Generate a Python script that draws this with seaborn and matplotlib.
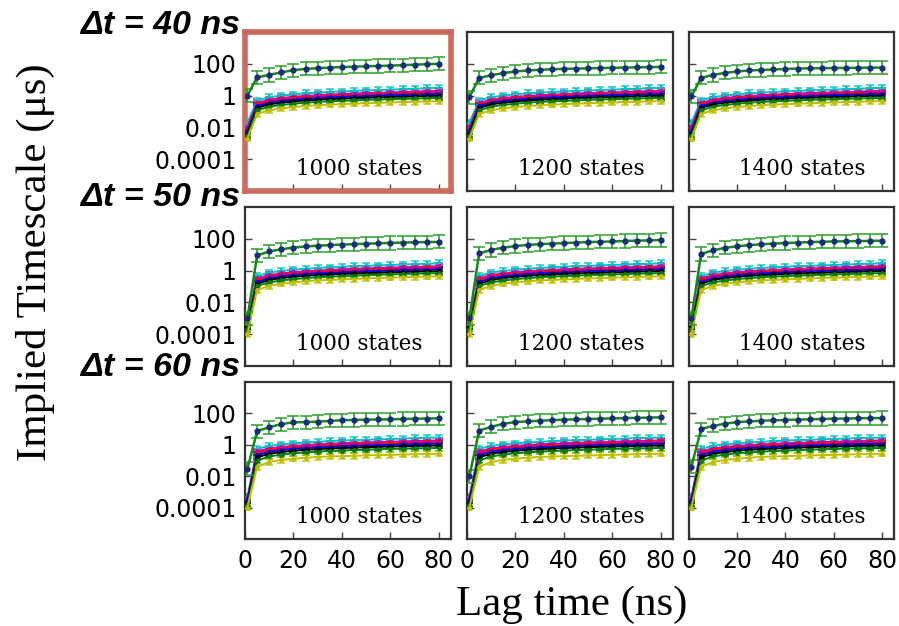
import numpy as np
import pandas as pd
import matplotlib
matplotlib.use("Agg")
import matplotlib.pyplot as plt
import seaborn as sns

# ---------------- data ----------------
LAGS = [1, 5, 10, 15, 20, 25, 30, 35, 40, 45, 50, 55, 60, 65, 70, 75, 80]
ROW_LABELS = ["Δt = 40 ns", "Δt = 50 ns", "Δt = 60 ns"]
COL_LABELS = ["1000 states", "1200 states", "1400 states"]
Y_TICKS = [1e-4, 1e-2, 1, 100]
Y_TICK_LABELS = ["0.0001", "0.01", "1", "100"]
X_TICKS = [0, 20, 40, 60, 80]

# slowest implied timescale (green curve), one per panel [row][col]
SLOW_R1C1 = [1.0, 14, 20, 29, 40, 48, 53, 58, 62, 66, 70, 73, 77, 82, 88, 94, 100]
SLOW_R1C2 = [0.8, 13, 19, 26, 33, 38, 42, 45, 48, 50, 52, 54, 56, 58, 60, 62, 64]
SLOW_R1C3 = [0.9, 13, 20, 27, 33, 38, 41, 44, 47, 50, 52, 53, 54, 55, 56, 57, 58]
SLOW_R2C1 = [0.001, 9, 16, 22, 28, 33, 37, 40, 43, 46, 49, 52, 55, 58, 60, 62, 64]
SLOW_R2C2 = [0.001, 12, 20, 28, 35, 41, 46, 50, 54, 58, 62, 65, 68, 72, 76, 80, 84]
SLOW_R2C3 = [0.001, 11, 19, 27, 34, 40, 45, 50, 54, 58, 62, 65, 68, 70, 72, 74, 76]
SLOW_R3C1 = [0.03, 7.5, 13, 21, 27, 28, 30, 33, 37, 38, 40, 41, 42, 44, 46, 47, 49]
SLOW_R3C2 = [0.01, 8, 14, 22, 28, 31, 34, 37, 40, 42, 44, 46, 48, 50, 52, 54, 56]
SLOW_R3C3 = [0.04, 10, 16, 22, 28, 31, 34, 36, 38, 40, 42, 44, 46, 47, 49, 50, 51]
SLOW = [[SLOW_R1C1, SLOW_R1C2, SLOW_R1C3],
        [SLOW_R2C1, SLOW_R2C2, SLOW_R2C3],
        [SLOW_R3C1, SLOW_R3C2, SLOW_R3C3]]

# faster implied timescales (bundle), per row, listed top to bottom
BUNDLE_COLORS = ["c", "m", "r", "b", "k", "g", "y"]
BUNDLE_R1 = [
    [0.02, 0.50, 0.80, 1.00, 1.20, 1.40, 1.50, 1.70, 1.80, 2.00, 2.10, 2.20, 2.40, 2.50, 2.70, 2.90, 3.10],
    [0.010, 0.35, 0.55, 0.70, 0.85, 0.95, 1.05, 1.15, 1.25, 1.35, 1.45, 1.50, 1.60, 1.70, 1.80, 1.90, 2.00],
    [0.008, 0.28, 0.45, 0.58, 0.68, 0.78, 0.86, 0.94, 1.00, 1.08, 1.15, 1.20, 1.28, 1.35, 1.42, 1.50, 1.55],
    [0.006, 0.22, 0.36, 0.46, 0.55, 0.63, 0.70, 0.76, 0.82, 0.88, 0.94, 1.00, 1.05, 1.10, 1.15, 1.20, 1.25],
    [0.004, 0.17, 0.28, 0.36, 0.43, 0.50, 0.55, 0.60, 0.65, 0.70, 0.74, 0.78, 0.82, 0.86, 0.90, 0.94, 0.98],
    [0.003, 0.12, 0.20, 0.26, 0.31, 0.36, 0.40, 0.44, 0.47, 0.50, 0.54, 0.57, 0.60, 0.63, 0.66, 0.69, 0.72],
    [0.002, 0.07, 0.12, 0.16, 0.19, 0.22, 0.25, 0.27, 0.29, 0.31, 0.33, 0.35, 0.37, 0.39, 0.41, 0.43, 0.45],
]
BUNDLE_R2 = [
    [0.0006, 0.45, 0.75, 0.95, 1.15, 1.30, 1.45, 1.60, 1.75, 1.90, 2.00, 2.10, 2.25, 2.40, 2.55, 2.70, 2.90],
    [0.0005, 0.32, 0.52, 0.66, 0.80, 0.90, 1.00, 1.10, 1.20, 1.30, 1.38, 1.45, 1.55, 1.62, 1.70, 1.80, 1.90],
    [0.0004, 0.26, 0.42, 0.55, 0.65, 0.74, 0.82, 0.90, 0.96, 1.03, 1.10, 1.16, 1.22, 1.28, 1.35, 1.42, 1.48],
    [0.0003, 0.20, 0.33, 0.43, 0.52, 0.60, 0.66, 0.72, 0.78, 0.84, 0.90, 0.95, 1.00, 1.05, 1.10, 1.15, 1.20],
    [0.0003, 0.15, 0.26, 0.34, 0.41, 0.47, 0.52, 0.57, 0.62, 0.66, 0.70, 0.74, 0.78, 0.82, 0.86, 0.90, 0.94],
    [0.0002, 0.11, 0.18, 0.24, 0.29, 0.34, 0.38, 0.42, 0.45, 0.48, 0.52, 0.55, 0.58, 0.61, 0.64, 0.67, 0.70],
    [0.0001, 0.06, 0.11, 0.15, 0.18, 0.21, 0.24, 0.26, 0.28, 0.30, 0.32, 0.34, 0.36, 0.38, 0.40, 0.42, 0.44],
]
BUNDLE_R3 = [
    [0.0005, 0.55, 0.85, 1.05, 1.25, 1.40, 1.55, 1.70, 1.85, 2.00, 2.10, 2.20, 2.35, 2.50, 2.65, 2.80, 2.90],
    [0.0004, 0.38, 0.58, 0.72, 0.86, 0.96, 1.06, 1.16, 1.26, 1.34, 1.42, 1.50, 1.58, 1.66, 1.74, 1.82, 1.90],
    [0.0003, 0.30, 0.46, 0.58, 0.68, 0.77, 0.85, 0.92, 0.98, 1.05, 1.12, 1.18, 1.24, 1.30, 1.36, 1.42, 1.48],
    [0.0003, 0.22, 0.36, 0.46, 0.55, 0.62, 0.68, 0.74, 0.80, 0.85, 0.90, 0.95, 1.00, 1.05, 1.10, 1.14, 1.18],
    [0.0002, 0.16, 0.27, 0.35, 0.42, 0.48, 0.53, 0.58, 0.62, 0.66, 0.70, 0.74, 0.78, 0.81, 0.84, 0.87, 0.90],
    [0.00015, 0.10, 0.18, 0.24, 0.29, 0.33, 0.37, 0.40, 0.43, 0.46, 0.49, 0.52, 0.55, 0.57, 0.59, 0.61, 0.63],
    [0.0001, 0.04, 0.08, 0.11, 0.13, 0.15, 0.17, 0.18, 0.19, 0.20, 0.21, 0.22, 0.23, 0.24, 0.25, 0.26, 0.27],
]
BUNDLE = [BUNDLE_R1, BUNDLE_R2, BUNDLE_R3]

SLOW_ERR_FACTOR = 2.6     # multiplicative error-bar half width
BUNDLE_ERR_FACTOR = 1.5

# ---------------- figure ----------------
sns.set_style("white")
plt.rcParams['font.family'] = ['DejaVu Sans']
plt.rcParams['text.color'] = 'black'
plt.rcParams['xtick.color'] = 'black'
plt.rcParams['ytick.color'] = 'black'

W, H = 899, 626
fig = plt.figure(figsize=(W / 100, H / 100), dpi=100)

col_left = [245, 467, 689]
col_w = [206, 206, 205]
row_top = [32, 207, 382]
row_h = [159, 159, 157]

def errs(vals, f):
    v = np.asarray(vals, float)
    return np.vstack([v - v / f, v * f - v])

for r in range(3):
    for c in range(3):
        ax = fig.add_axes([col_left[c] / W, 1 - (row_top[r] + row_h[r]) / H,
                           col_w[c] / W, row_h[r] / H])
        ax.set_yscale("log")
        # bundle
        for vals, colr in zip(BUNDLE[r], BUNDLE_COLORS):
            ax.errorbar(LAGS, vals, yerr=errs(vals, BUNDLE_ERR_FACTOR), fmt="none",
                        ecolor=colr, elinewidth=2.4 if colr == "k" else 1.6,
                        capsize=3, capthick=1.3, alpha=0.75, zorder=2)
            df = pd.DataFrame({"lag": LAGS, "ts": vals})
            sns.lineplot(data=df, x="lag", y="ts", ax=ax, color=colr, lw=1.4,
                         marker="o", markersize=3.5, markeredgewidth=0, zorder=3)
        # slow process
        sv = SLOW[r][c]
        ax.errorbar(LAGS, sv, yerr=errs(sv, SLOW_ERR_FACTOR), fmt="none",
                    ecolor="#2ca02c", elinewidth=1.5, capsize=4.5, capthick=1.3,
                    alpha=0.85, zorder=4)
        df = pd.DataFrame({"lag": LAGS, "ts": sv})
        sns.lineplot(data=df, x="lag", y="ts", ax=ax, color="#138a13", lw=1.8,
                     marker="o", markersize=4.5, markerfacecolor="#1a2a80",
                     markeredgewidth=0, zorder=5)

        ax.set_xlim(0, 85)
        ax.set_ylim(1e-6, 1e4)
        ax.set_xlabel("")
        ax.set_ylabel("")
        ax.set_yticks(Y_TICKS)
        ax.minorticks_off()
        ax.set_xticks(X_TICKS)
        if c == 0:
            ax.set_yticklabels(Y_TICK_LABELS, fontsize=17)
        else:
            ax.set_yticklabels([])
        if r == 2:
            ax.set_xticklabels([str(t) for t in X_TICKS], fontsize=17)
        else:
            ax.set_xticklabels([])
        ax.tick_params(axis="both", direction="in", length=5, width=1,
                       color="#444444", labelcolor="black", pad=6, left=True,
                       bottom=True, top=False, right=False)
        ax.tick_params(axis="x", pad=7)
        for sp in ax.spines.values():
            sp.set_visible(True)
            sp.set_color("#333333")
            sp.set_linewidth(1.6)
        if r == 0 and c == 0:
            for sp in ax.spines.values():
                sp.set_color("#cc6a5e")
                sp.set_linewidth(4)
        ax.text(0.86, 0.1, COL_LABELS[c], transform=ax.transAxes, ha="right",
                va="baseline", fontsize=15.5, family="DejaVu Serif", color="black")

# row labels
row_label_y = [26, 198, 367]
for r in range(3):
    fig.text(80 / W, 1 - row_label_y[r] / H, ROW_LABELS[r], ha="left", va="center",
             fontsize=24.5, fontweight="bold", fontstyle="italic",
             family="Liberation Sans", color="black")

fig.text(35 / W, 1 - 262 / H, "Implied Timescale (μs)", rotation=90, ha="center",
         va="center", fontsize=31, family="Liberation Serif", color="black")
fig.text(572 / W, 1 - 605 / H, "Lag time (ns)", ha="center", va="center",
         fontsize=31, family="Liberation Serif", color="black")

fig.savefig("out.png", dpi=100)
